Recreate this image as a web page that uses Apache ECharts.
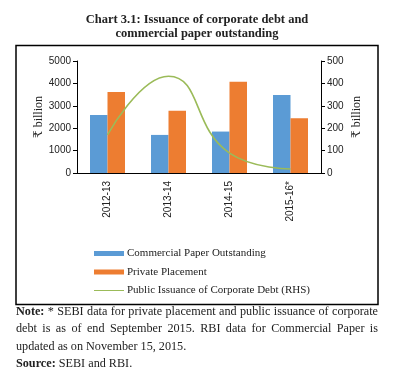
<!DOCTYPE html>
<html><head><meta charset="utf-8">
<script src="https://cdn.jsdelivr.net/npm/echarts@6/dist/echarts.min.js"></script>
<style>html,body{margin:0;padding:0;background:#fff}#c{width:400px;height:372px}</style>
</head><body><div id="c"></div>
<script>
const categories = ['2012-13', '2013-14', '2014-15', '2015-16*'];
const commercialPaper = [2590, 1700, 1850, 3480];
const privatePlacement = [3620, 2780, 4070, 2440];
const publicIssuance = [170, 432, 89, 18];
const leftTicks = [0, 1000, 2000, 3000, 4000, 5000];
const rightTicks = [0, 100, 200, 300, 400, 500];
const noteLines = [
  {text: 'Note: * SEBI data for private placement and public issuance of corporate', justify: true, bold: 1},
  {text: 'debt is as of end September 2015. RBI data for Commercial Paper is', justify: true, bold: 0},
  {text: 'updated as on November 15, 2015.', justify: false, bold: 0},
  {text: 'Source: SEBI and RBI.', justify: false, bold: 1}
];

const serif = '"Liberation Serif", "DejaVu Serif", serif';
const sans = '"Liberation Sans", Arial, sans-serif';
const noteFont = 12.2;

// build note text elements (justified lines like the reference)
const ctx = document.createElement('canvas').getContext('2d');
function measure(t, bold) { ctx.font = (bold ? 'bold ' : '') + noteFont + 'px ' + serif; return ctx.measureText(t).width; }
const noteGraphics = [];
const noteLeft = 16, noteRight = 378, noteMid = 311.5, noteLH = 17.5;
noteLines.forEach((ln, i) => {
  const words = ln.text.split(' ');
  const widths = words.map((w, k) => measure(w, k < ln.bold));
  const total = widths.reduce((a, b) => a + b, 0);
  const gap = ln.justify ? (noteRight - noteLeft - total) / (words.length - 1) : measure(' ', false);
  let x = noteLeft;
  words.forEach((w, k) => {
    noteGraphics.push({type: 'text', x: x, y: noteMid + i * noteLH, silent: true, style: {
      text: w, font: (k < ln.bold ? 'bold ' : '') + noteFont + 'px ' + serif, fill: '#222',
      verticalAlign: 'middle', textVerticalAlign: 'middle'
    }});
    x += widths[k] + gap;
  });
});

const chart = echarts.init(document.getElementById('c'), null, {renderer: 'canvas'});
chart.setOption({
  animation: false,
  backgroundColor: '#fff',
  title: {
    text: 'Chart 3.1: Issuance of corporate debt and\ncommercial paper outstanding',
    left: 197, top: 13, textAlign: 'center', padding: 0,
    textStyle: {fontFamily: serif, fontWeight: 'bold', fontSize: 12.5, lineHeight: 14, color: '#222'}
  },
  grid: {left: 77, right: 79, top: 61, bottom: 199, containLabel: false},
  legend: {
    orient: 'vertical', left: 94, top: 248, itemWidth: 30, itemHeight: 5, itemGap: 7.5, padding: 0,
    symbolKeepAspect: true,
    textStyle: {fontFamily: serif, fontSize: 11, color: '#222', padding: [0, 0, 0, -2]},
    data: [
      {name: 'Commercial Paper Outstanding', icon: 'rect'},
      {name: 'Private Placement', icon: 'rect'},
      {name: 'Public Issuance of Corporate Debt (RHS)', icon: 'path://M0,0H30V1H0Z'}
    ]
  },
  xAxis: {
    type: 'category', data: categories,
    axisLine: {lineStyle: {color: '#000', width: 1}},
    axisTick: {length: 4, lineStyle: {color: '#000'}},
    axisLabel: {rotate: 90, fontFamily: sans, fontSize: 10, color: '#222', margin: 8}
  },
  yAxis: [{
    type: 'value', min: leftTicks[0], max: leftTicks[leftTicks.length - 1], interval: 1000,
    name: '₹ billion', nameLocation: 'middle', nameGap: 32, nameRotate: 90, nameMoveOverlap: false,
    nameTextStyle: {fontFamily: serif, fontSize: 12, color: '#222'},
    axisLine: {show: true, lineStyle: {color: '#000'}},
    axisTick: {show: true, length: 4, lineStyle: {color: '#000'}},
    axisLabel: {fontFamily: sans, fontSize: 10, color: '#222', margin: 6, formatter: v => String(v)},
    splitLine: {show: false}
  }, {
    type: 'value', min: rightTicks[0], max: rightTicks[rightTicks.length - 1], interval: 100,
    name: '₹ billion', nameLocation: 'middle', nameGap: 30, nameRotate: 90, nameMoveOverlap: false,
    nameTextStyle: {fontFamily: serif, fontSize: 12, color: '#222'},
    axisLine: {show: true, lineStyle: {color: '#000'}},
    axisTick: {show: true, length: 4, lineStyle: {color: '#000'}},
    axisLabel: {fontFamily: sans, fontSize: 10, color: '#222', margin: 6, formatter: v => String(v)},
    splitLine: {show: false}
  }],
  series: [{
    name: 'Commercial Paper Outstanding', type: 'bar', data: commercialPaper,
    barWidth: 17.5, barGap: '0%', itemStyle: {color: '#5B9BD5'}
  }, {
    name: 'Private Placement', type: 'bar', data: privatePlacement,
    barWidth: 17.5, itemStyle: {color: '#ED7D31'}
  }, {
    name: 'Public Issuance of Corporate Debt (RHS)', type: 'line', yAxisIndex: 1, data: publicIssuance,
    smooth: 0.5, symbol: 'none', lineStyle: {color: '#9BBB59', width: 1.6}, itemStyle: {color: '#9BBB59'}
  }],
  graphic: [
    {type: 'rect', shape: {x: 16, y: 45.5, width: 362, height: 259}, style: {fill: 'none', stroke: '#000', lineWidth: 1.5}, silent: true}
  ].concat(noteGraphics)
});
</script></body></html>
